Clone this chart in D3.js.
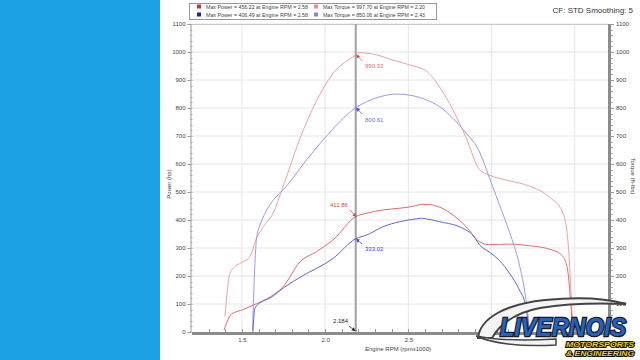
<!DOCTYPE html>
<html><head><meta charset="utf-8">
<script src="https://cdn.jsdelivr.net/npm/d3@7"></script>
<style>
body{margin:0;background:#fff;}
svg{display:block;font-family:"Liberation Sans",Arial,sans-serif;}
</style>
</head><body>
<svg id="c" width="640" height="360"></svg>
<script>
// ---------- data ----------
const xTickValues = [1.5, 2.0, 2.5, 3.0, 3.5];
const xTickLabels = ["1.5", "2.0", "2.5"];            // 3.0 / 3.5 hidden behind logo
const yTickValues = [0,100,200,300,400,500,600,700,800,900,1000,1100];
const yTickLabelsRight = [100,200,300,400,500,600,700,800,900,1000,1100]; // 0 hidden behind logo
const legendLabels = [
  "Max Power = 456.22 at Engine RPM = 2.58",
  "Max Torque = 997.70 at Engine RPM = 2.20",
  "Max Power = 406.49 at Engine RPM = 2.58",
  "Max Torque = 850.06 at Engine RPM = 2.43"
];
const cursorRpm = 2.184;
const cursorValues = [990.33, 800.61, 411.86, 333.02];

// run 1 (red) power, hp
const run1PowerRpm = [1.392,1.438,1.508,1.568,1.648,1.748,1.848,1.948,2.048,2.184,2.248,2.348,2.448,2.548,2.58,2.628,2.688,2.768,2.848,2.928,2.988,3.108,3.228,3.348,3.426,3.456,3.474,3.486];
const run1PowerHp  = [7,64,80,96,118,162,250,287,329,412,424,436,442,451,456,455,446,418,376,322,312,314,308,296,272,226,120,20];
// run 1 (pink) torque, ft-lbs
const run1TorqueRpm = [1.398,1.428,1.448,1.508,1.548,1.588,1.628,1.688,1.748,1.848,1.948,2.048,2.184,2.20,2.25,2.308,2.408,2.508,2.608,2.688,2.768,2.848,2.928,2.988,3.108,3.228,3.348,3.426,3.456,3.474,3.486];
const run1TorqueLb  = [55,210,228,251,269,335,376,425,520,690,825,924,990,997.7,996,990,971,954,932,875,793,693,580,560,540,521,482,429,346,186,43];
// run 2 (dark blue) power, hp
const run2PowerRpm = [1.566,1.578,1.608,1.668,1.758,1.848,2.048,2.184,2.248,2.348,2.448,2.548,2.58,2.608,2.688,2.828,2.888,2.928,2.988,3.048,3.108,3.168,3.204,3.228];
const run2PowerHp  = [0,85,104,121,161,195,263,333,346,376,394,404,406.5,404,394,370,346,311,285,255,210,150,96,0];
// run 2 (light blue) torque, ft-lbs
const run2TorqueRpm = [1.564,1.578,1.588,1.598,1.798,1.988,2.184,2.248,2.348,2.43,2.508,2.608,2.688,2.768,2.848,2.928,2.988,3.048,3.108,3.168,3.198,3.222,3.228];
const run2TorqueLb  = [7,245,335,364,543,686,800.6,822,843,850,846,829,805,763,710,643,550,454,357,239,150,43,0];

// ---------- chart ----------
const svg = d3.select("#c");
const x = d3.scaleLinear().domain([1.2, 3.7]).range([192, 608]);
const y = d3.scaleLinear().domain([0, 1100]).range([332, 24]);

// left blue band
svg.append("rect").attr("x",0).attr("y",0).attr("width",160).attr("height",360).attr("fill","#1ca2e3");

// grid
svg.append("g").selectAll("line").data(yTickValues.slice(1)).join("line")
  .attr("x1",190).attr("x2",608).attr("y1",d=>y(d)).attr("y2",d=>y(d))
  .attr("stroke","#e6e6e6").attr("stroke-width",1);
svg.append("g").selectAll("line").data(xTickValues).join("line")
  .attr("x1",d=>x(d)).attr("x2",d=>x(d)).attr("y1",24).attr("y2",332)
  .attr("stroke","#e6e6e6").attr("stroke-width",1);
svg.append("line").attr("x1",190).attr("x2",608).attr("y1",24.5).attr("y2",24.5).attr("stroke","#c8c8c8");

// left axis
const minorY = d3.range(0, 1101, 20);
const gl = svg.append("g").attr("transform","translate(190.5,0)")
  .call(d3.axisLeft(y).tickValues(yTickValues).tickSize(3).tickPadding(2).tickFormat(d3.format("d")));
gl.select(".domain").attr("stroke","#999");
gl.selectAll(".tick line").attr("stroke","#999");
gl.selectAll("text").attr("font-size",6).attr("fill","#444");
svg.append("g").selectAll("line").data(minorY).join("line")
  .attr("x1",190.5).attr("x2",192.5).attr("y1",d=>Math.round(y(d))+0.5).attr("y2",d=>Math.round(y(d))+0.5)
  .attr("stroke","#aaa");

// right axis
svg.append("rect").attr("x",608).attr("y",24).attr("width",3).attr("height",311).attr("fill","#8c8c8c");
const gr = svg.append("g").attr("transform","translate(611,0)")
  .call(d3.axisRight(y).tickValues(yTickValues).tickSize(3).tickPadding(2)
    .tickFormat(d => yTickLabelsRight.includes(d) ? String(d) : ""));
gr.select(".domain").remove();
gr.selectAll(".tick line").attr("stroke","#999");
gr.selectAll("text").attr("font-size",6).attr("fill","#444");
svg.append("g").selectAll("line").data(minorY).join("line")
  .attr("x1",611).attr("x2",613).attr("y1",d=>Math.round(y(d))+0.5).attr("y2",d=>Math.round(y(d))+0.5)
  .attr("stroke","#aaa");

// bottom axis
svg.append("rect").attr("x",192).attr("y",332).attr("width",419).attr("height",3).attr("fill","#8c8c8c");
const gb = svg.append("g").attr("transform","translate(0,335)")
  .call(d3.axisBottom(x).tickValues(xTickValues.slice(0, xTickLabels.length)).tickSize(0).tickPadding(3)
    .tickFormat((d,i)=>xTickLabels[i]));
gb.select(".domain").remove();
gb.selectAll("text").attr("font-size",6).attr("fill","#444");
svg.append("g").selectAll("line").data(d3.range(1.3, 3.65, 0.1)).join("line")
  .attr("x1",d=>Math.round(x(d))+0.5).attr("x2",d=>Math.round(x(d))+0.5).attr("y1",329).attr("y2",332)
  .attr("stroke","#999");

// axis titles
svg.append("text").attr("transform","translate(171,184) rotate(-90)").attr("text-anchor","middle")
  .attr("font-size",6).attr("fill","#444").text("Power (hp)");
svg.append("text").attr("transform","translate(631,176) rotate(90)").attr("text-anchor","middle")
  .attr("font-size",6).attr("fill","#444").text("Torque (ft-lbs)");
svg.append("text").attr("x",398).attr("y",351).attr("text-anchor","middle")
  .attr("font-size",6).attr("fill","#444").text("Engine RPM (rpmx1000)");

// cursor line
svg.append("line").attr("x1",x(cursorRpm)).attr("x2",x(cursorRpm)).attr("y1",24).attr("y2",332)
  .attr("stroke","#a0a0a0").attr("stroke-width",2);

// curves
const series = [
  {rpm: run1TorqueRpm, val: run1TorqueLb, color: "#f2a0a0"},
  {rpm: run2TorqueRpm, val: run2TorqueLb, color: "#9a9aec"},
  {rpm: run1PowerRpm, val: run1PowerHp, color: "#e46a6a"},
  {rpm: run2PowerRpm, val: run2PowerHp, color: "#6464d6"}
];
const line = d3.line().x(d=>x(d[0])).y(d=>y(d[1])).curve(d3.curveMonotoneX);
svg.append("g").selectAll("path").data(series).join("path")
  .attr("d", s => line(s.rpm.map((r,i)=>[r, s.val[i]])))
  .attr("fill","none").attr("stroke",s=>s.color).attr("stroke-width",1);

// markers
const defs = svg.append("defs");
function marker(id, col){
  defs.append("marker").attr("id",id).attr("viewBox","0 0 10 10").attr("refX",9).attr("refY",5)
    .attr("markerWidth",5).attr("markerHeight",5).attr("orient","auto")
    .append("path").attr("d","M0,0L10,5L0,10Z").attr("fill",col);
}
marker("mR","#d84848"); marker("mB","#4646c8"); marker("mK","#222");
const cx = x(cursorRpm);
const anns = [
  {v: cursorValues[0], label:"990.33", col:"#e06a6a", mk:"mR", lx: 365, ly: 68, ax: 362, ay: 61},
  {v: cursorValues[1], label:"800.61", col:"#6a6ad8", mk:"mB", lx: 365, ly: 122, ax: 362, ay: 114},
  {v: cursorValues[2], label:"411.86", col:"#d84848", mk:"mR", lx: 330, ly: 207, ax: 350, ay: 210},
  {v: cursorValues[3], label:"333.02", col:"#4646c8", mk:"mB", lx: 365, ly: 251, ax: 362, ay: 244}
];
anns.forEach(a=>{
  svg.append("line").attr("x1",a.ax).attr("y1",a.ay).attr("x2",cx+0.5).attr("y2",y(a.v))
    .attr("stroke",a.col).attr("stroke-width",0.8).attr("marker-end",`url(#${a.mk})`);
  svg.append("text").attr("x",a.lx).attr("y",a.ly).attr("font-size",6).attr("fill",a.col).text(a.label);
});
svg.append("line").attr("x1",349).attr("y1",326).attr("x2",cx-0.5).attr("y2",331)
  .attr("stroke","#222").attr("stroke-width",0.8).attr("marker-end","url(#mK)");
svg.append("text").attr("x",333).attr("y",323).attr("font-size",6).attr("fill","#222").text(String(cursorRpm));

// legend
svg.append("rect").attr("x",189.5).attr("y",3.5).attr("width",247).attr("height",16)
  .attr("fill","#fff").attr("stroke","#999").attr("stroke-width",1);
const legCols = ["#d03030","#f08c8c","#2424a0","#8484e4"];
const legPos = [[199,8.5],[316,8.5],[199,16.5],[316,16.5]];
legendLabels.forEach((t,i)=>{
  svg.append("rect").attr("x",legPos[i][0]-2).attr("y",legPos[i][1]-4).attr("width",4).attr("height",4).attr("fill",legCols[i]);
  svg.append("text").attr("x",legPos[i][0]+7).attr("y",legPos[i][1]).attr("font-size",5)
    .attr("textLength",102).attr("lengthAdjust","spacingAndGlyphs").attr("fill","#444").text(t);
});

// title right
svg.append("text").attr("x",633).attr("y",13).attr("text-anchor","end")
  .attr("font-size",8).attr("fill","#333").text("CF: STD Smoothing: 5");

// logo
const lg = svg.append("g");
lg.append("path")
  .attr("d","M478,338 C480,318 506,304 545,300 C575,297 605,298 626,304 C600,303 565,304 540,308 C514,313 500,324 492,338 Z")
  .attr("fill","#f4f4f4").attr("stroke","#444").attr("stroke-width",2);
lg.append("path")
  .attr("d","M476,336 C495,340 520,341 556,339 L556,345 C520,347 494,344 476,336 Z")
  .attr("fill","#f4f4f4").attr("stroke","#444").attr("stroke-width",1.5);
lg.append("text").attr("x",500).attr("y",336).attr("font-size",25).attr("font-weight","bold").attr("font-style","italic")
  .attr("textLength",126).attr("lengthAdjust","spacingAndGlyphs")
  .attr("fill","#2163c0").attr("stroke","#1a1a1a").attr("stroke-width",2.5).attr("paint-order","stroke").text("LIVERNOIS");
lg.append("text").attr("x",566).attr("y",347).attr("font-size",7.5).attr("font-weight","bold").attr("font-style","italic")
  .attr("textLength",68).attr("lengthAdjust","spacingAndGlyphs")
  .attr("fill","#f4d000").attr("stroke","#111").attr("stroke-width",2).attr("paint-order","stroke").text("MOTORSPORTS");
lg.append("text").attr("x",566).attr("y",355.5).attr("font-size",7.5).attr("font-weight","bold").attr("font-style","italic")
  .attr("textLength",68).attr("lengthAdjust","spacingAndGlyphs")
  .attr("fill","#f4d000").attr("stroke","#111").attr("stroke-width",2).attr("paint-order","stroke").text("& ENGINEERING");
</script>
</body></html>
